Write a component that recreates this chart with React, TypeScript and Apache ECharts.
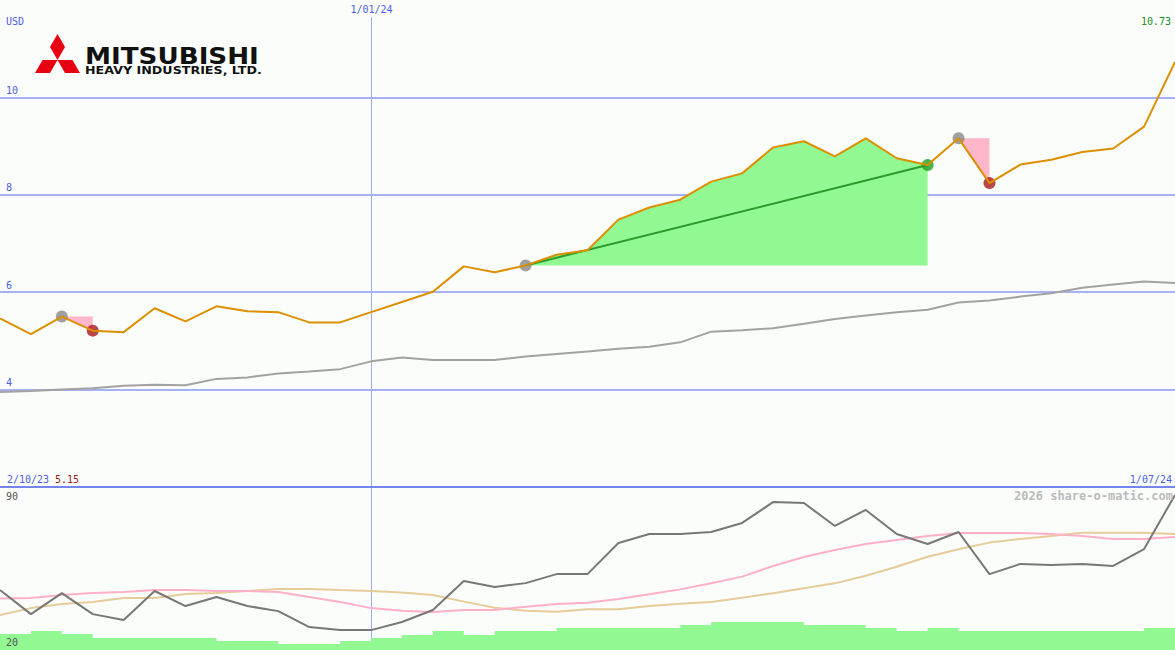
import React, { useEffect, useRef } from 'react';
import * as echarts from 'echarts';

// ---- data ----
const dates = ['2/10/23','9/10/23','16/10/23','23/10/23','30/10/23','6/11/23','13/11/23','20/11/23','27/11/23','4/12/23','11/12/23','18/12/23','1/01/24','8/01/24','15/01/24','22/01/24','29/01/24','5/02/24','12/02/24','19/02/24','26/02/24','4/03/24','11/03/24','18/03/24','25/03/24','1/04/24','8/04/24','15/04/24','22/04/24','29/04/24','6/05/24','13/05/24','20/05/24','27/05/24','3/06/24','10/06/24','17/06/24','24/06/24','1/07/24'];
const price = [5.46, 5.14, 5.50, 5.21, 5.18, 5.67, 5.40, 5.71, 5.61, 5.59, 5.38, 5.38, 5.59, 5.80, 6.01, 6.53, 6.41, 6.55, 6.77, 6.86, 7.49, 7.74, 7.90, 8.27, 8.44, 8.97, 9.10, 8.79, 9.16, 8.75, 8.61, 9.16, 8.24, 8.62, 8.72, 8.88, 8.95, 9.40, 10.73];
const priceMA = [3.95, 3.97, 4.00, 4.03, 4.08, 4.10, 4.09, 4.22, 4.25, 4.33, 4.37, 4.42, 4.58, 4.66, 4.61, 4.61, 4.61, 4.68, 4.73, 4.78, 4.84, 4.88, 4.97, 5.19, 5.22, 5.26, 5.35, 5.45, 5.52, 5.59, 5.64, 5.79, 5.83, 5.91, 5.98, 6.09, 6.16, 6.22, 6.19];
const oscillator = [45.9, 35.5, 44.6, 35.5, 33.0, 45.5, 39.0, 42.9, 39.0, 36.8, 29.9, 28.6, 28.6, 32.1, 37.3, 49.8, 47.2, 48.9, 52.8, 52.8, 66.2, 70.1, 70.1, 71.0, 74.9, 83.9, 83.5, 73.6, 80.5, 70.1, 65.8, 71.0, 52.8, 57.2, 56.7, 57.2, 56.3, 63.6, 87.0];
const oscSignal = [42.3, 42.5, 43.8, 44.6, 45.1, 45.9, 45.9, 45.5, 45.5, 45.1, 42.9, 40.7, 38.1, 37.0, 36.4, 37.3, 37.3, 38.7, 39.9, 40.4, 42.0, 44.1, 46.2, 48.8, 51.7, 56.3, 60.2, 63.2, 65.8, 67.5, 69.3, 70.6, 70.6, 70.6, 70.1, 69.3, 68.0, 68.0, 68.8];
const oscSlow = [35.1, 38.1, 39.9, 40.7, 42.5, 42.5, 44.2, 44.6, 45.5, 46.4, 46.4, 45.9, 45.5, 44.8, 43.8, 40.9, 38.3, 37.0, 36.5, 37.6, 37.6, 39.0, 40.0, 40.7, 42.6, 44.5, 46.7, 48.8, 52.1, 56.0, 60.3, 63.5, 66.4, 68.0, 69.3, 70.7, 70.7, 70.7, 70.1];
const volume = [16, 19, 16, 12, 12, 12, 12, 9, 9, 6, 6, 9, 12, 15, 19, 15, 19, 19, 22, 22, 22, 22, 25, 28, 28, 28, 25, 25, 22, 19, 22, 19, 19, 19, 19, 19, 19, 22, 22];
const priceTicks = [4, 6, 8, 10];
const gainRange = [17, 30];
const lossRanges = [[2, 3], [31, 32]];
const markerDate = '1/01/24';
const lastPriceLabel = '10.73';
const lowPriceLabel = '5.15';

const BG = '#fafdfa';
const BLUE = '#4f5ee8';
const VLINE = '#9aaaff';
const MONO = '"DejaVu Sans Mono", monospace';

function measure(text: string, font: string): number {
  const ctx = document.createElement('canvas').getContext('2d');
  if (!ctx) return 100;
  ctx.font = font;
  return ctx.measureText(text).width || 100;
}

export default function App() {
  const ref = useRef<HTMLDivElement>(null);
  useEffect(() => {
    document.body.style.margin = '0';
    const chart = echarts.init(ref.current, null, { renderer: 'svg' });

    const n = dates.length;
    const [g0, g1] = gainRange;
    const gainBase = price.map((_, i) => (i >= g0 && i <= g1 ? price[g0] : null));
    const gainFill = price.map((p, i) => (i >= g0 && i <= g1 ? +(p - price[g0]).toFixed(3) : null));
    const inLoss = (i: number) => lossRanges.find(([a, b]) => i >= a && i <= b);
    const lossBase = price.map((p, i) => (inLoss(i) ? p : null));
    const lossFill = price.map((p, i) => {
      const r = inLoss(i);
      return r ? +(price[r[0]] - p).toFixed(3) : null;
    });
    const trend = price.map((p, i) => (i === g0 || i === g1 ? p : null));
    const startPts = [lossRanges[0][0], g0, lossRanges[1][0]].map((i) => [i, price[i]]);
    const lossPts = lossRanges.map(([, b]) => [b, price[b]]);
    const gainPts = [[g1, price[g1]]];

    const bigFont = 'bold 23px "DejaVu Sans"';
    const smallFont = 'bold 10.5px "DejaVu Sans"';
    const sxBig = 174 / measure('MITSUBISHI', bigFont);
    const sxSmall = 177 / measure('HEAVY INDUSTRIES, LTD.', smallFont);

    const C = [57.5, 60];
    const s = 15;
    const h = 0.866 * s;
    const red = '#e60012';

    const txt = (text: string, x: number, y: number, fill: string, align = 'left', font = `10px ${MONO}`, extra: any = {}) => ({
      type: 'text', x, y, silent: true, z: 50,
      style: { text, x: 0, y: 0, fill, font, textAlign: align, textVerticalAlign: 'middle', ...extra },
    });

    const option: any = {
      animation: false,
      backgroundColor: BG,
      grid: [
        { left: 0, right: 0, top: 0, height: 487 },
        { left: 0, right: 0, top: 488, height: 162 },
      ],
      xAxis: [
        { type: 'category', data: dates, boundaryGap: false, gridIndex: 0, show: false },
        { type: 'category', data: dates, boundaryGap: false, gridIndex: 1, show: false },
      ],
      yAxis: [
        { type: 'value', gridIndex: 0, min: 2, max: 12, show: false, splitLine: { show: false } },
        { type: 'value', gridIndex: 1, min: 20, max: 90, show: false, splitLine: { show: false } },
        { type: 'value', gridIndex: 1, min: 0, max: 162, show: false, splitLine: { show: false } },
      ],
      series: [
        {
          name: 'MA', type: 'line', data: priceMA, symbol: 'none', z: 3,
          lineStyle: { color: '#a2a2a2', width: 2 },
          markLine: {
            silent: true, z: 1, symbol: ['none', 'none'], animation: false,
            label: { show: true, position: 'insideStartTop', formatter: '{c}', color: BLUE, fontFamily: MONO, fontSize: 10, distance: [6, 2] },
            lineStyle: { color: '#a6b2f2', width: 2, type: 'solid' },
            emphasis: { disabled: true },
            data: priceTicks.map((v) => ({ yAxis: v })),
          },
        },
        { name: 'gainBase', type: 'line', data: gainBase, stack: 'gain', symbol: 'none', z: 2, lineStyle: { width: 0, opacity: 0 } },
        { name: 'gainFill', type: 'line', data: gainFill, stack: 'gain', symbol: 'none', z: 2, lineStyle: { width: 0, opacity: 0 }, areaStyle: { color: '#92f992', opacity: 1 } },
        { name: 'lossBase', type: 'line', data: lossBase, stack: 'loss', symbol: 'none', z: 2, lineStyle: { width: 0, opacity: 0 } },
        { name: 'lossFill', type: 'line', data: lossFill, stack: 'loss', symbol: 'none', z: 2, lineStyle: { width: 0, opacity: 0 }, areaStyle: { color: '#ffb6c9', opacity: 1 } },
        { name: 'trend', type: 'line', data: trend, connectNulls: true, symbol: 'none', z: 3, lineStyle: { color: '#2a9b2a', width: 2 } },
        { name: 'start', type: 'scatter', data: startPts, symbol: 'circle', symbolSize: 12, z: 3, itemStyle: { color: '#888888' } },
        { name: 'loss', type: 'scatter', data: lossPts, symbol: 'circle', symbolSize: 12, z: 3, itemStyle: { color: '#aa1818' } },
        { name: 'gain', type: 'scatter', data: gainPts, symbol: 'circle', symbolSize: 12, z: 3, itemStyle: { color: '#22a022' } },
        { name: 'price', type: 'line', data: price, symbol: 'none', z: 4, lineStyle: { color: '#dc8f00', width: 2 } },

        { name: 'volume', type: 'line', xAxisIndex: 1, yAxisIndex: 2, data: volume, step: 'end', symbol: 'none', z: 2,
          lineStyle: { width: 0, opacity: 0 }, areaStyle: { color: '#92f992', opacity: 1 } },
        { name: 'slow', type: 'line', xAxisIndex: 1, yAxisIndex: 1, data: oscSlow, symbol: 'none', z: 3, lineStyle: { color: '#e6cb9b', width: 2 } },
        { name: 'signal', type: 'line', xAxisIndex: 1, yAxisIndex: 1, data: oscSignal, symbol: 'none', z: 3, lineStyle: { color: '#ffb0c8', width: 2 } },
        { name: 'osc', type: 'line', xAxisIndex: 1, yAxisIndex: 1, data: oscillator, symbol: 'none', z: 4, lineStyle: { color: '#777777', width: 2 } },
      ],
      graphic: [
        { type: 'line', silent: true, z: 40, shape: { x1: 0, y1: 487, x2: 1175, y2: 487 }, style: { stroke: '#7685ee', lineWidth: 2 } },
        { type: 'polygon', silent: true, z: 50, shape: { points: [[C[0], C[1]], [C[0] + s / 2, C[1] - h], [C[0], C[1] - 2 * h], [C[0] - s / 2, C[1] - h]] }, style: { fill: red } },
        { type: 'polygon', silent: true, z: 50, shape: { points: [[C[0], C[1]], [C[0] - s, C[1]], [C[0] - 1.5 * s, C[1] + h], [C[0] - 0.5 * s, C[1] + h]] }, style: { fill: red } },
        { type: 'polygon', silent: true, z: 50, shape: { points: [[C[0], C[1]], [C[0] + s, C[1]], [C[0] + 1.5 * s, C[1] + h], [C[0] + 0.5 * s, C[1] + h]] }, style: { fill: red } },
        { type: 'text', silent: true, z: 50, x: 85, y: 56, scaleX: sxBig, style: { text: 'MITSUBISHI', x: 0, y: 0, fill: '#111111', font: bigFont, textVerticalAlign: 'middle' } },
        { type: 'text', silent: true, z: 50, x: 85, y: 70.5, scaleX: sxSmall, style: { text: 'HEAVY INDUSTRIES, LTD.', x: 0, y: 0, fill: '#111111', font: smallFont, textVerticalAlign: 'middle' } },
        txt('USD', 6, 21, BLUE),
        txt(lastPriceLabel, 1171, 21, '#229022', 'right'),
        txt(dates[0], 7, 479, BLUE),
        txt(lowPriceLabel, 55, 479, '#a01818'),
        txt(dates[n - 1], 1172, 479, BLUE, 'right'),
        txt('2026 share-o-matic.com', 1173, 496, '#bbbbbb', 'right', `bold 12px ${MONO}`),
        txt('90', 6, 496, '#555555'),
        txt('20', 6, 642, '#555555'),
      ],
    };
    chart.setOption(option);

    // vertical date marker placed through the category axis scale
    const px = chart.convertToPixel({ xAxisIndex: 0 }, markerDate) as number;
    const vx = Math.round(px) + 0.5;
    option.graphic.push(
      { type: 'line', silent: true, z: 1, shape: { x1: vx, y1: 17, x2: vx, y2: 486 }, style: { stroke: VLINE, lineWidth: 1 } },
      { type: 'line', silent: true, z: 1, shape: { x1: vx, y1: 488, x2: vx, y2: 650 }, style: { stroke: VLINE, lineWidth: 1 } },
      txt(markerDate, vx, 9, BLUE, 'center'),
    );
    chart.setOption(option);
    return () => chart.dispose();
  }, []);
  return <div ref={ref} style={{ position: 'absolute', left: 0, top: 0, width: 1175, height: 650 }} />;
}
